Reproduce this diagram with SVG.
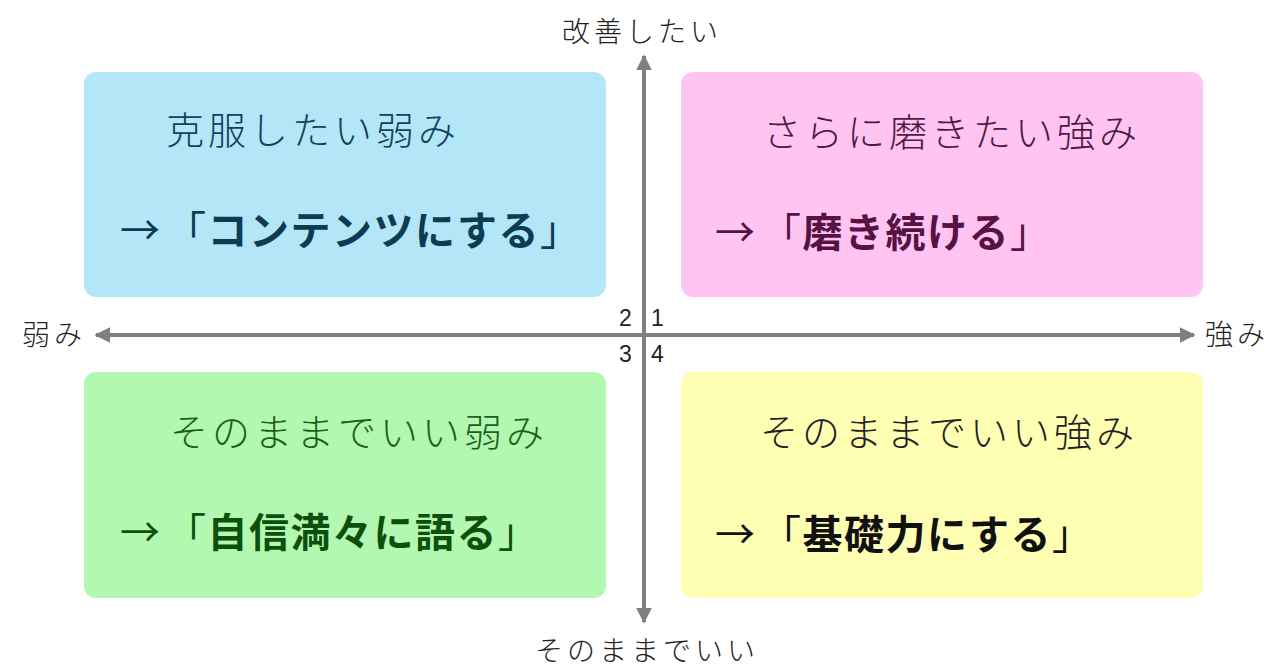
<svg xmlns="http://www.w3.org/2000/svg" width="1280" height="667" viewBox="0 0 1280 667">
<defs>
<marker id="ah" viewBox="0 0 10 10" refX="9" refY="5" markerWidth="4" markerHeight="4" orient="auto-start-reverse" markerUnits="strokeWidth">
<path d="M0,0 L10,5 L0,10 z" fill="#7f7f7f"/>
</marker>
<style>
text{font-family:"Noto Sans CJK JP","Noto Sans",sans-serif;}
.ax{font-size:28px;fill:#222;letter-spacing:4px;font-weight:300;}
.num{font-size:23px;fill:#222;font-family:"Liberation Sans","Noto Sans",sans-serif;}
.ttl{font-size:38px;letter-spacing:4px;font-weight:300;}
.big{font-size:40px;font-weight:bold;letter-spacing:1.5px;}
.arr{font-weight:normal;letter-spacing:6px;}
.br{font-weight:normal;}
.axis{stroke:#7f7f7f;stroke-width:4;fill:none;}
</style>
</defs>
<rect width="1280" height="667" fill="#fff"/>
<g id="q2">
<rect x="84" y="72" width="522" height="225" rx="12" fill="#b3e6f7"/>
<text class="ttl" x="166" y="144" fill="#15405a">克服したい弱み</text>
<text class="big" x="120" y="245" fill="#0d3b52"><tspan class="arr">→</tspan><tspan class="br">「</tspan>コンテンツにする<tspan class="br">」</tspan></text>
</g>
<g id="q1">
<rect x="681" y="72" width="522" height="225" rx="12" fill="#ffc4f2"/>
<text class="ttl" x="763" y="146" fill="#4e1a42">さらに磨きたい強み</text>
<text class="big" x="715" y="247" fill="#561243"><tspan class="arr">→</tspan><tspan class="br">「</tspan>磨き続ける<tspan class="br">」</tspan></text>
</g>
<g id="q3">
<rect x="84" y="372" width="522" height="226" rx="12" fill="#b3f8b0"/>
<text class="ttl" x="170" y="446" fill="#1d5e1d">そのままでいい弱み</text>
<text class="big" x="120" y="547" fill="#0d500d"><tspan class="arr">→</tspan><tspan class="br">「</tspan>自信満々に語る<tspan class="br">」</tspan></text>
</g>
<g id="q4">
<rect x="681" y="372" width="522" height="226" rx="12" fill="#ffffb3"/>
<text class="ttl" x="760" y="446" fill="#222">そのままでいい強み</text>
<text class="big" x="715" y="549" fill="#111"><tspan class="arr">→</tspan><tspan class="br">「</tspan>基礎力にする<tspan class="br">」</tspan></text>
</g>
<g id="connectors">
<line class="axis" x1="644" y1="622" x2="644" y2="56" marker-end="url(#ah)" marker-start="url(#ah)"/>
<line class="axis" x1="96" y1="335" x2="1194" y2="335" marker-end="url(#ah)" marker-start="url(#ah)"/>
</g>
<g id="labels">
<text class="ax" x="642" y="42" text-anchor="middle">改善したい</text>
<text class="ax" x="647" y="661" text-anchor="middle">そのままでいい</text>
<text class="ax" x="22" y="345">弱み</text>
<text class="ax" x="1205" y="345">強み</text>
<text class="num" x="619" y="326">2</text>
<text class="num" x="651" y="326">1</text>
<text class="num" x="619" y="362">3</text>
<text class="num" x="651" y="362">4</text>
</g>
</svg>
